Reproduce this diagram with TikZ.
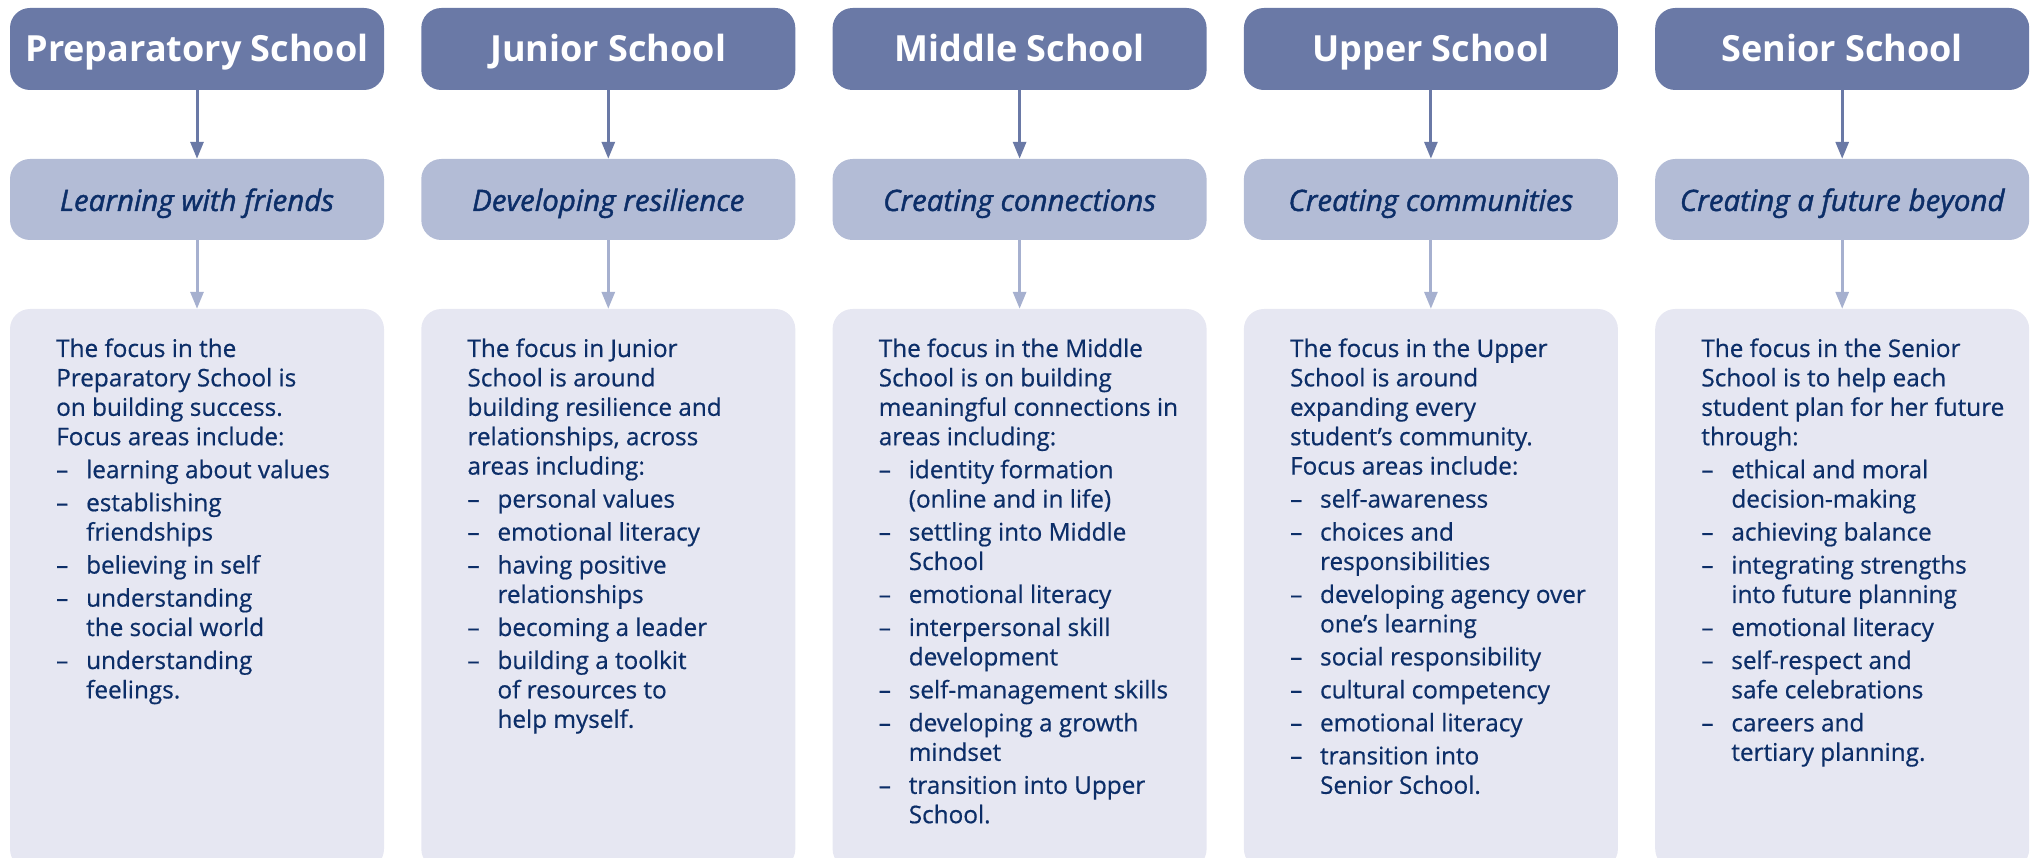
\documentclass[tikz,border=0pt]{standalone}
\usepackage{fontspec}
\setmainfont{Open Sans}
\newfontfamily\bodyfont{Open Sans}[FakeBold=0.6]
\newfontfamily\subfont{Open Sans}[FakeBold=1.4]
\usetikzlibrary{arrows.meta}
\definecolor{hdrblue}{HTML}{6A79A6}
\definecolor{subblue}{HTML}{B3BCD6}
\definecolor{bodyblue}{HTML}{E6E7F2}
\definecolor{navy}{HTML}{0C2E68}
\definecolor{arrowlight}{HTML}{A6B0CF}
\newcommand{\bulitem}[1]{\makebox[30pt][l]{–}#1}
\newcommand{\bulcont}[1]{\hspace*{30pt}#1}
\begin{document}
\begin{tikzpicture}[x=1pt,y=-1pt,
  hdr/.style={fill=hdrblue, rounded corners=20pt, minimum width=374pt, minimum height=82pt,
    inner sep=0pt, text=white, font=\fontsize{36}{40}\selectfont\bfseries, text height=26pt, text depth=0pt},
  sub/.style={fill=subblue, rounded corners=20pt, minimum width=374pt, minimum height=81pt,
    inner sep=0pt, text=navy, font=\subfont\fontsize{29.5}{32}\selectfont\itshape, text height=23pt, text depth=0pt},
  bodybox/.style={fill=bodyblue, rounded corners=20pt, minimum width=374pt, minimum height=560pt, inner sep=0pt},
  bodytext/.style={anchor=base west, inner sep=0pt, text=navy, font=\bodyfont\fontsize{24.3}{29.4}\selectfont},
  darrow/.style={line width=3pt, draw=hdrblue, fill=hdrblue, -{Triangle[width=13pt,length=17pt]}},
  larrow/.style={line width=3pt, draw=arrowlight, fill=arrowlight, -{Triangle[width=13pt,length=17pt]}},
]
\useasboundingbox (0,0) rectangle (2035,858);

% column 1
\node[hdr] (h1) at (197,49) {Preparatory School};
\node[sub] (s1) at (197,199.5) {Learning with friends};
\node[bodybox] (b1) at (197,589) {};
\node[bodytext] (t1) at (56,357) {\begin{tabular}[t]{@{}l@{}}
The focus in the\\
Preparatory School is\\
on building success.\\
Focus areas include:\\[3.6pt]
\bulitem{learning about values}\\[3.6pt]
\bulitem{establishing}\\
\bulcont{friendships}\\[3.6pt]
\bulitem{believing in self}\\[3.6pt]
\bulitem{understanding}\\
\bulcont{the social world}\\[3.6pt]
\bulitem{understanding}\\
\bulcont{feelings.}
\end{tabular}};
\draw[darrow] (h1) -- (s1);
\draw[larrow] (s1) -- (b1);

% column 2
\node[hdr] (h2) at (608.3,49) {Junior School};
\node[sub] (s2) at (608.3,199.5) {Developing resilience};
\node[bodybox] (b2) at (608.3,589) {};
\node[bodytext] (t2) at (467.3,357) {\begin{tabular}[t]{@{}l@{}}
The focus in Junior\\
School is around\\
building resilience and\\
relationships, across\\
areas including:\\[3.6pt]
\bulitem{personal values}\\[3.6pt]
\bulitem{emotional literacy}\\[3.6pt]
\bulitem{having positive}\\
\bulcont{relationships}\\[3.6pt]
\bulitem{becoming a leader}\\[3.6pt]
\bulitem{building a toolkit}\\
\bulcont{of resources to}\\
\bulcont{help myself.}
\end{tabular}};
\draw[darrow] (h2) -- (s2);
\draw[larrow] (s2) -- (b2);

% column 3
\node[hdr] (h3) at (1019.6,49) {Middle School};
\node[sub] (s3) at (1019.6,199.5) {Creating connections};
\node[bodybox] (b3) at (1019.6,589) {};
\node[bodytext] (t3) at (878.6,357) {\begin{tabular}[t]{@{}l@{}}
The focus in the Middle\\
School is on building\\
meaningful connections in\\
areas including:\\[3.6pt]
\bulitem{identity formation}\\
\bulcont{(online and in life)}\\[3.6pt]
\bulitem{settling into Middle}\\
\bulcont{School}\\[3.6pt]
\bulitem{emotional literacy}\\[3.6pt]
\bulitem{interpersonal skill}\\
\bulcont{development}\\[3.6pt]
\bulitem{self-management skills}\\[3.6pt]
\bulitem{developing a growth}\\
\bulcont{mindset}\\[3.6pt]
\bulitem{transition into Upper}\\
\bulcont{School.}
\end{tabular}};
\draw[darrow] (h3) -- (s3);
\draw[larrow] (s3) -- (b3);

% column 4
\node[hdr] (h4) at (1430.9,49) {Upper School};
\node[sub] (s4) at (1430.9,199.5) {Creating communities};
\node[bodybox] (b4) at (1430.9,589) {};
\node[bodytext] (t4) at (1289.9,357) {\begin{tabular}[t]{@{}l@{}}
The focus in the Upper\\
School is around\\
expanding every\\
student’s community.\\
Focus areas include:\\[3.6pt]
\bulitem{self-awareness}\\[3.6pt]
\bulitem{choices and}\\
\bulcont{responsibilities}\\[3.6pt]
\bulitem{developing agency over}\\
\bulcont{one’s learning}\\[3.6pt]
\bulitem{social responsibility}\\[3.6pt]
\bulitem{cultural competency}\\[3.6pt]
\bulitem{emotional literacy}\\[3.6pt]
\bulitem{transition into}\\
\bulcont{Senior School.}
\end{tabular}};
\draw[darrow] (h4) -- (s4);
\draw[larrow] (s4) -- (b4);

% column 5
\node[hdr] (h5) at (1842.2,49) {Senior School};
\node[sub] (s5) at (1842.2,199.5) {Creating a future beyond};
\node[bodybox] (b5) at (1842.2,589) {};
\node[bodytext] (t5) at (1701.2,357) {\begin{tabular}[t]{@{}l@{}}
The focus in the Senior\\
School is to help each\\
student plan for her future\\
through:\\[3.6pt]
\bulitem{ethical and moral}\\
\bulcont{decision-making}\\[3.6pt]
\bulitem{achieving balance}\\[3.6pt]
\bulitem{integrating strengths}\\
\bulcont{into future planning}\\[3.6pt]
\bulitem{emotional literacy}\\[3.6pt]
\bulitem{self-respect and}\\
\bulcont{safe celebrations}\\[3.6pt]
\bulitem{careers and}\\
\bulcont{tertiary planning.}
\end{tabular}};
\draw[darrow] (h5) -- (s5);
\draw[larrow] (s5) -- (b5);
\end{tikzpicture}
\end{document}
